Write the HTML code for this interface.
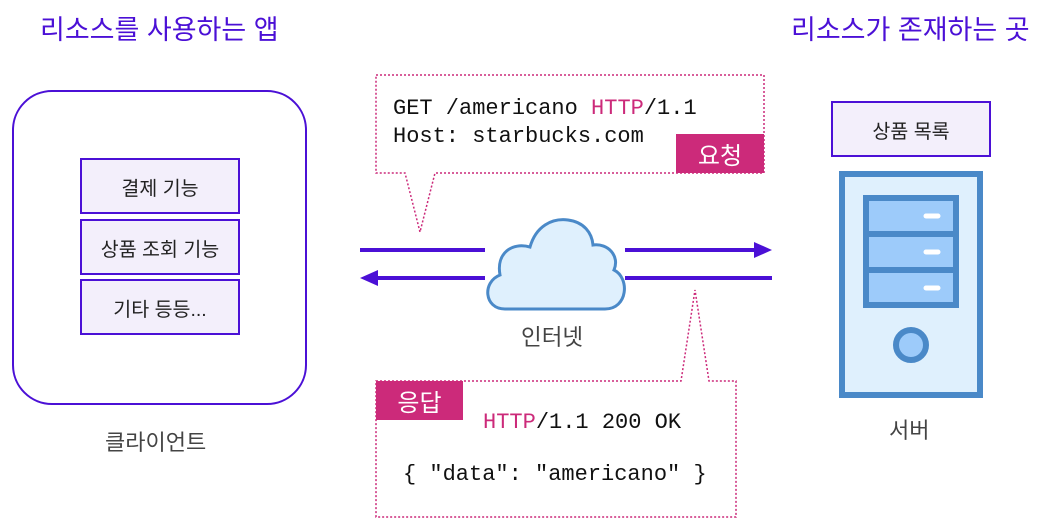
<!DOCTYPE html>
<html><head><meta charset="utf-8"><style>
body{margin:0;width:1042px;height:524px;background:#fff;overflow:hidden;position:relative;font-family:"Liberation Sans","Noto Sans CJK KR",sans-serif}
.a{position:absolute}
.t{font-size:27px;color:#4b10d6}
.box{position:absolute;background:#f3effb;border:2px solid #4b10d6;box-sizing:border-box;display:flex;align-items:center;justify-content:center;font-size:19.5px;color:#222}
.mono{font-family:"Liberation Mono","DejaVu Sans Mono",monospace;font-size:22px;color:#111;white-space:pre}
.p{color:#cc2a7a}
.badge{position:absolute;background:#cc2a7a;color:#fff;font-size:24px;display:flex;align-items:center;justify-content:center}
</style></head><body>
<div class="a t" style="left:40px;top:8px">리소스를 사용하는 앱</div>
<div class="a t" style="left:791px;top:8px">리소스가 존재하는 곳</div>
<div class="a" style="left:12px;top:90px;width:295px;height:315px;border:2px solid #4b10d6;border-radius:40px;box-sizing:border-box"></div>
<div class="box" style="left:80px;top:158px;width:160px;height:56px">결제 기능</div>
<div class="box" style="left:80px;top:219px;width:160px;height:56px">상품 조회 기능</div>
<div class="box" style="left:80px;top:279px;width:160px;height:56px">기타 등등...</div>
<div class="a" style="left:105px;top:425px;font-size:22px;color:#444">클라이언트</div>
<div class="box" style="left:831px;top:101px;width:160px;height:56px">상품 목록</div>
<div class="a" style="left:889px;top:413px;font-size:22px;color:#444">서버</div>
<div class="a" style="left:521px;top:320px;font-size:22.5px;color:#444">인터넷</div>
<svg class="a" style="left:0;top:0" width="1042" height="524">
<g stroke="#cc2a7a" stroke-width="1.5" stroke-dasharray="2,2" fill="#fff">
<path d="M376 75H764V173H435L420 232L405 173H376Z"/>
<path d="M376 381H681L695 290L709 381H736V517H376Z"/>
</g>
<g stroke="#4b10d6" stroke-width="4">
<line x1="360" y1="250" x2="485" y2="250"/><line x1="625" y1="250" x2="758" y2="250"/>
<line x1="372" y1="278" x2="485" y2="278"/><line x1="625" y1="278" x2="772" y2="278"/>
</g>
<path d="M772 250L754 242V258Z M360 278L378 270V286Z" fill="#4b10d6"/>
<path d="M505 309C484 309 482 282 500 275C496 253 512 242 530 247C536 226 552 218 568 220C584 222 592 233 593 245C608 243 620 256 614 270C630 278 628 309 605 309Z" fill="#dff0fd" stroke="#4a89c8" stroke-width="3"/>
<rect x="842" y="174" width="138" height="221" fill="#dff0fd" stroke="#4a89c8" stroke-width="6"/>
<rect x="866" y="198" width="90" height="107" fill="#9dcbfa" stroke="#4a89c8" stroke-width="6"/>
<line x1="866" y1="234" x2="956" y2="234" stroke="#4a89c8" stroke-width="6"/>
<line x1="866" y1="270" x2="956" y2="270" stroke="#4a89c8" stroke-width="6"/>
<g stroke="#fff" stroke-width="5" stroke-linecap="round"><line x1="926" y1="216" x2="938" y2="216"/><line x1="926" y1="252" x2="938" y2="252"/><line x1="926" y1="288" x2="938" y2="288"/></g>
<circle cx="911" cy="345" r="15" fill="#9dcbfa" stroke="#4a89c8" stroke-width="6"/>
</svg>
<div class="a mono" style="left:393px;top:95px;line-height:28px">GET /americano <span class="p">HTTP</span>/1.1
Host: starbucks.com</div>
<div class="badge" style="left:676px;top:134px;width:88px;height:39px">요청</div>
<div class="badge" style="left:376px;top:381px;width:87px;height:39px">응답</div>
<div class="a mono" style="left:483px;top:410px"><span class="p">HTTP</span>/1.1 200 OK</div>
<div class="a mono" style="left:403px;top:462px">{ "data": "americano" }</div>
</body></html>
